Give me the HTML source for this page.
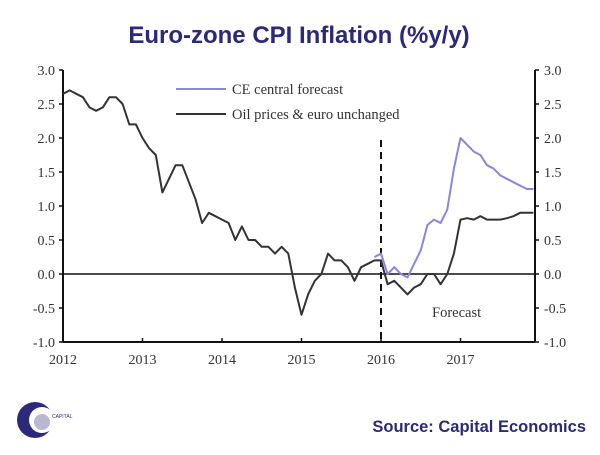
<!DOCTYPE html>
<html><head><meta charset="utf-8"><style>
body{margin:0;background:#fff;width:600px;height:450px;overflow:hidden;font-family:"Liberation Sans",sans-serif}
</style></head><body>
<svg width="600" height="450" viewBox="0 0 600 450">
<text x="299" y="43" text-anchor="middle" font-size="24" font-weight="bold" fill="#2b2a7a">Euro-zone CPI Inflation (%y/y)</text>
<g id="axes" font-family="Liberation Serif" font-size="14" fill="#333"></g>
<g id="plot"></g>
<g>
<line x1="176" y1="89" x2="226" y2="89" stroke="#8a86e0" stroke-width="2"/>
<text x="232" y="94" font-family="Liberation Serif" font-size="14.5" fill="#333">CE central forecast</text>
<line x1="176" y1="114" x2="226" y2="114" stroke="#333" stroke-width="2"/>
<text x="232" y="119" font-family="Liberation Serif" font-size="14.5" fill="#333">Oil prices &amp; euro unchanged</text>
</g>
<text x="432" y="317" font-family="Liberation Serif" font-size="14.5" fill="#333">Forecast</text>
<g>
<circle cx="35" cy="420" r="18" fill="#2b2a7a"/>
<circle cx="42" cy="420" r="13" fill="#fff"/>
<circle cx="42" cy="422" r="8" fill="#b9b8d0"/>
<text x="52" y="418" font-size="5" fill="#2b2a7a">CAPITAL</text>
</g>
<text x="586" y="432" text-anchor="end" font-size="16.5" font-weight="bold" fill="#2b2a7a">Source: Capital Economics</text>
</svg>
<script>
const years=["2012","2013","2014","2015","2016","2017"];
const yTicks=[3.0,2.5,2.0,1.5,1.0,0.5,0.0,-0.5,-1.0];
const oilUnchanged=[2.65,2.7,2.65,2.6,2.45,2.4,2.45,2.6,2.6,2.5,2.2,2.2,
2.0,1.85,1.75,1.2,1.4,1.6,1.6,1.35,1.1,0.75,0.9,0.85,
0.8,0.75,0.5,0.7,0.5,0.5,0.4,0.4,0.3,0.4,0.3,-0.2,
-0.6,-0.3,-0.1,0.0,0.3,0.2,0.2,0.1,-0.1,0.1,0.15,0.2,
0.2,-0.15,-0.1,-0.2,-0.3,-0.2,-0.15,0.0,0.0,-0.15,0.0,0.3,
0.8,0.82,0.8,0.85,0.8,0.8,0.8,0.82,0.85,0.9,0.9,0.9];
const ceForecast=[null,null,null,null,null,null,null,null,null,null,null,null,
null,null,null,null,null,null,null,null,null,null,null,null,
null,null,null,null,null,null,null,null,null,null,null,null,
null,null,null,null,null,null,null,null,null,null,null,0.25,
0.3,0.0,0.1,0.0,-0.05,0.15,0.35,0.72,0.8,0.75,0.95,1.55,
2.0,1.9,1.8,1.75,1.6,1.55,1.45,1.4,1.35,1.3,1.25,1.25];
const NS="http://www.w3.org/2000/svg";
const x0=63,pxYear=79.5,yTop=70,yBot=342,xR=535;
const xm=i=>x0+i*pxYear/12;
const yv=v=>yTop+(3-v)*(yBot-yTop)/4;
function mk(t,a,p){const e=document.createElementNS(NS,t);for(const k in a)e.setAttribute(k,a[k]);p.appendChild(e);return e;}
const ax=document.getElementById('axes'),pl=document.getElementById('plot');
let e;
e=mk('line',{x1:x0,y1:yTop,x2:x0,y2:yBot,stroke:'#111','stroke-width':2},ax);


e=mk('line',{x1:xR,y1:yTop,x2:xR,y2:yBot,stroke:'#111','stroke-width':2},ax);


e=mk('line',{x1:x0,y1:yBot,x2:xR,y2:yBot,stroke:'#111','stroke-width':2},ax);


e=mk('line',{x1:x0,y1:yv(0),x2:xR,y2:yv(0),stroke:'#111','stroke-width':1.5},ax);


yTicks.forEach(v=>{const y=yv(v);
mk('line',{x1:x0-4,y1:y,x2:x0,y2:y,stroke:'#111','stroke-width':1.5},ax);
mk('line',{x1:xR,y1:y,x2:xR+4,y2:y,stroke:'#111','stroke-width':1.5},ax);
e=mk('text',{x:x0-8,y:y+5,'text-anchor':'end'},ax);e.textContent=v.toFixed(1);


e=mk('text',{x:xR+9,y:y+5},ax);e.textContent=v.toFixed(1);


});
years.forEach((yr,i)=>{const x=xm(i*12);
mk('line',{x1:x,y1:yBot-4,x2:x,y2:yBot,stroke:'#111','stroke-width':1.5},ax);
e=mk('text',{x:x,y:yBot+22,'text-anchor':'middle'},ax);e.textContent=yr;


});
e=mk('line',{x1:xm(48),y1:140,x2:xm(48),y2:yBot,stroke:'#111','stroke-width':2,'stroke-dasharray':'7,5'},pl);


function path(arr){let d='';arr.forEach((v,i)=>{if(v==null)return;d+=(d?'L':'M')+xm(i).toFixed(1)+','+yv(v).toFixed(1);});return d;}
e=mk('path',{d:path(ceForecast),fill:'none',stroke:'#8a86e0','stroke-width':2,'stroke-linejoin':'round'},pl);


e=mk('path',{d:path(oilUnchanged),fill:'none',stroke:'#333','stroke-width':2,'stroke-linejoin':'round'},pl);


</script>
</body></html>
